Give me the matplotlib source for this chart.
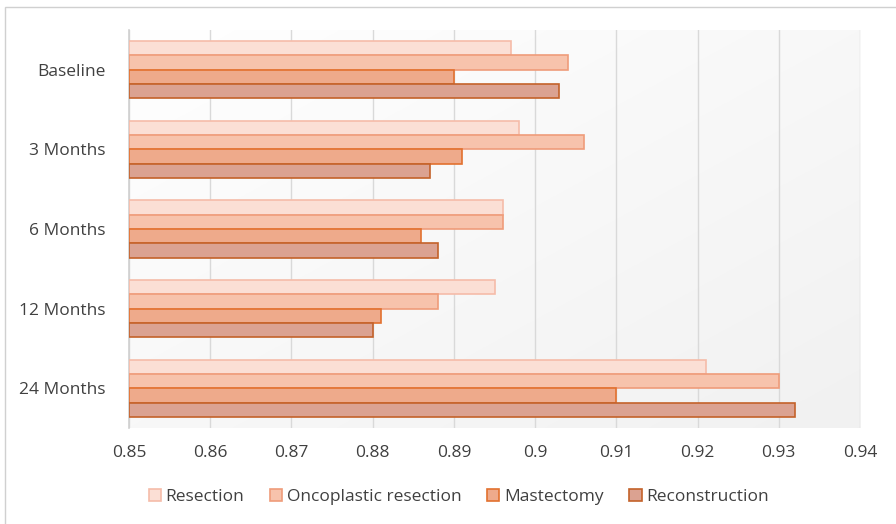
import numpy as np
import matplotlib.pyplot as plt
from matplotlib.patches import Rectangle

categories = ["Baseline", "3 Months", "6 Months", "12 Months", "24 Months"]
series_names = ["Resection", "Oncoplastic resection", "Mastectomy", "Reconstruction"]
resection = [0.897, 0.898, 0.896, 0.895, 0.921]
oncoplastic = [0.904, 0.906, 0.896, 0.888, 0.930]
mastectomy = [0.890, 0.891, 0.886, 0.881, 0.910]
reconstruction = [0.903, 0.887, 0.888, 0.880, 0.932]
x_ticks = [0.85, 0.86, 0.87, 0.88, 0.89, 0.90, 0.91, 0.92, 0.93, 0.94]
x_tick_labels = ["0.85", "0.86", "0.87", "0.88", "0.89", "0.9", "0.91", "0.92", "0.93", "0.94"]

series = [resection, oncoplastic, mastectomy, reconstruction]
fills = ["#FBDFD5", "#F7C3AC", "#EEAA8B", "#DBA291"]
edges = ["#F5BCA9", "#EF9C7A", "#E2712F", "#C4622A"]

plt.rcParams['font.family'] = ['Open Sans', 'DejaVu Sans']

fig = plt.figure(figsize=(8.96, 5.24), dpi=100)
fig.patch.set_facecolor("white")

# chart frame
frame = fig.add_axes([0, 0, 1, 1], zorder=-10)
frame.add_patch(Rectangle((4.5 / 896, -0.01), 1, 1 - 6.5 / 524 + 0.01, fill=False,
                          edgecolor="#D0D0D0", linewidth=1))
frame.set_xlim(0, 1)
frame.set_ylim(0, 1)
frame.axis('off')

ax = fig.add_axes([129 / 896, 1 - 428 / 524, (860 - 129) / 896, (428 - 30) / 524])

# soft diagonal gradient inside the plot area
gx, gy = np.meshgrid(np.linspace(0, 1, 300), np.linspace(0, 1, 300))
g = (gx + gy) / 2
col = 1.0 - 0.055 * g
ax.imshow(np.dstack([col, col, col]), extent=[0, 1, 0, 1], aspect='auto',
          origin='upper', transform=ax.transAxes, zorder=-1)

n = len(categories)
h = 0.18
y = np.arange(n)
for i, (vals, fc, ec, name) in enumerate(zip(series, fills, edges, series_names)):
    offs = (i - 1.5) * h
    ax.barh(y + offs, np.array(vals) - 0.85, left=0.85, height=h, color=fc,
            edgecolor=ec, linewidth=1.2, label=name, zorder=3)

ax.set_xlim(0.85, 0.94)
ax.set_ylim(n - 0.5, -0.5)
ax.set_xticks(x_ticks)
ax.set_xticklabels(x_tick_labels)
ax.set_yticks(y)
ax.set_yticklabels(categories)
ax.tick_params(axis='both', length=0, labelsize=12.5, colors="#404040")
ax.tick_params(axis='x', pad=12)
ax.tick_params(axis='y', pad=17)
ax.grid(axis='x', color="#D9D9D9", linewidth=1, zorder=0)
ax.set_axisbelow(True)
for s in ["top", "right", "bottom"]:
    ax.spines[s].set_visible(False)
ax.spines["left"].set_color("#D0D0D0")
ax.spines["left"].set_linewidth(1.2)

handles, labels = ax.get_legend_handles_labels()
fig.legend(handles, labels, loc='center', bbox_to_anchor=(0.512, 1 - 497 / 524), ncol=4,
           frameon=False, fontsize=12.5, handlelength=0.7, handleheight=0.7,
           handletextpad=0.25, columnspacing=1.5, labelcolor="#404040")

fig.savefig("out.png", dpi=100)
